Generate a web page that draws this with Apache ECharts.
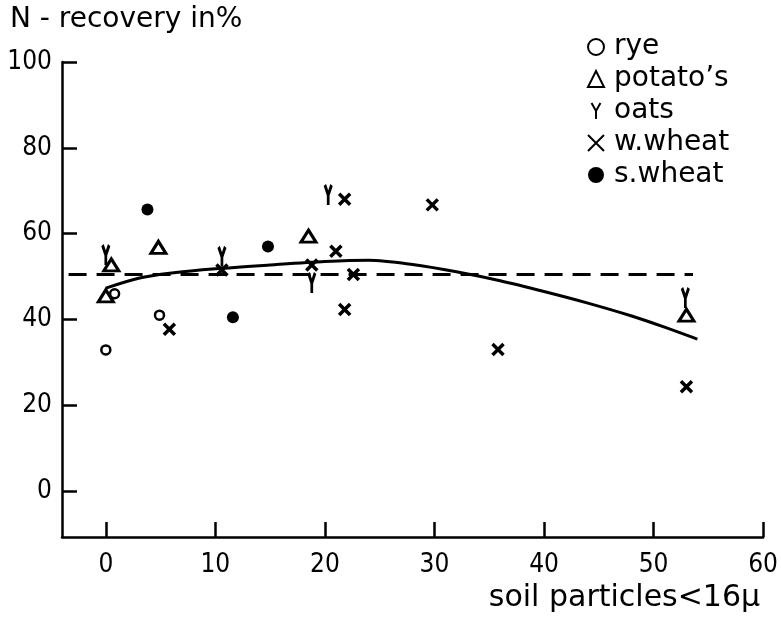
<!DOCTYPE html>
<html>
<head>
<meta charset="utf-8">
<script src="https://cdn.jsdelivr.net/npm/echarts@6/dist/echarts.min.js"></script>
<style>
  html, body { margin: 0; padding: 0; background: #fff; }
  #chart { width: 781px; height: 620px; }
</style>
</head>
<body>
<div id="chart"></div>
<script>
// Measured N-recovery (%) against soil particles < 16 µm, per crop
const ryePts     = [[0, 32.9], [4.9, 41.0], [0.8, 46.0]];
const potatoPts  = [[0.5, 52.7], [0, 45.5], [4.8, 56.8], [18.5, 59.4], [53, 41.0]];
const oatsPts    = [[0, 55.0], [10.6, 54.6], [20.3, 69.0], [18.8, 48.5], [52.9, 45.0]];
const wWheatPts  = [[5.8, 37.7], [10.6, 51.5], [18.8, 52.7], [21.0, 55.9], [21.8, 68.0],
                    [22.6, 50.5], [21.8, 42.3], [29.8, 66.7], [35.8, 33.0], [53, 24.3]];
const sWheatPts  = [[3.8, 65.6], [11.6, 40.5], [14.8, 57.0]];

// Fitted curve through all crops
const trendX = [0, 3, 6, 10, 15, 20, 24, 28, 32, 36, 40, 44, 48, 51, 54];
const trendY = [47.3, 49.6, 50.8, 51.8, 52.7, 53.5, 53.8, 52.8, 51.1, 49.0, 46.5, 43.8, 40.8, 38.2, 35.4];

// Overall mean recovery level (dashed)
const meanX = [-3.4, 53.6];
const meanY = [50.5, 50.5];

// Axis tick labels
const xTicks = [0, 10, 20, 30, 40, 50, 60];
const yTicks = [0, 20, 40, 60, 80, 100];

const seriesNames = ['rye', 'potato’s', 'oats', 'w.wheat', 's.wheat'];

const FONT = "'DejaVu Sans', sans-serif";
const TICK_FONT = "'DejaVu Sans Condensed', 'Liberation Sans Narrow', 'DejaVu Sans', sans-serif";

const OATS_PATH = 'path://M0,0 L5,9 L10,0 M5,9 L5,18';
const CROSS_PATH = 'path://M0,0 L10,10 M10,0 L0,10';

function zip(xs, ys) { return xs.map((x, i) => [x, ys[i]]); }

const chart = echarts.init(document.getElementById('chart'), null, { renderer: 'canvas' });

chart.setOption({
  animation: false,
  backgroundColor: '#fff',
  title: {
    text: 'N - recovery in%',
    left: 10, top: 6, padding: 0,
    textStyle: { fontFamily: FONT, fontSize: 28, fontWeight: 'normal', color: '#000' }
  },
  legend: {
    orient: 'vertical',
    left: 587, top: 33,
    padding: 0,
    itemWidth: 16, itemHeight: 16,
    itemGap: 4,
    data: seriesNames,
    textStyle: { fontFamily: FONT, fontSize: 28, color: '#000', padding: [0, 0, 0, 5] }
  },
  grid: { left: 62, right: 12, top: 62, bottom: 83 },
  xAxis: {
    type: 'value',
    min: -4, max: 60,
    name: 'soil particles<16μ',
    nameLocation: 'end',
    nameGap: -3,
    nameTextStyle: {
      fontFamily: FONT, fontSize: 30, color: '#000',
      align: 'right', verticalAlign: 'top', padding: [46, 0, 0, 0]
    },
    axisLine: { show: true, onZero: false, lineStyle: { color: '#000', width: 2.5 } },
    axisTick: { show: true, inside: true, length: 15, customValues: xTicks,
                lineStyle: { color: '#000', width: 2.5 } },
    axisLabel: { customValues: xTicks, fontFamily: TICK_FONT, fontSize: 26, color: '#000', margin: 15 },
    splitLine: { show: false }
  },
  yAxis: {
    type: 'value',
    min: -10.7, max: 100,
    axisLine: { show: true, onZero: false, lineStyle: { color: '#000', width: 2.5 } },
    axisTick: { show: true, inside: true, length: 15, customValues: yTicks,
                lineStyle: { color: '#000', width: 2.5 } },
    axisLabel: { customValues: yTicks, fontFamily: TICK_FONT, fontSize: 26, color: '#000', margin: 10 },
    splitLine: { show: false }
  },
  series: [
    {
      name: 'mean', type: 'line', data: zip(meanX, meanY),
      showSymbol: false, silent: true, z: 1,
      lineStyle: { color: '#000', width: 3, type: [18, 10] }
    },
    {
      name: 'fit', type: 'line', data: zip(trendX, trendY),
      smooth: 0.3, showSymbol: false, silent: true, z: 1,
      lineStyle: { color: '#000', width: 3 }
    },
    {
      name: seriesNames[0], type: 'scatter', data: ryePts, z: 3,
      symbol: 'circle', symbolSize: 9,
      itemStyle: { color: '#fff', borderColor: '#000', borderWidth: 2.5, opacity: 1 }
    },
    {
      name: seriesNames[1], type: 'scatter', data: potatoPts, z: 3,
      symbol: 'triangle', symbolSize: [15, 12],
      itemStyle: { color: '#fff', borderColor: '#000', borderWidth: 3, opacity: 1 }
    },
    {
      name: seriesNames[2], type: 'scatter', data: oatsPts, z: 3,
      symbol: OATS_PATH, symbolSize: [12, 20], symbolKeepAspect: true,
      itemStyle: { color: 'rgba(0,0,0,0)', borderColor: '#000', borderWidth: 3.5, opacity: 1 }
    },
    {
      name: seriesNames[3], type: 'scatter', data: wWheatPts, z: 3,
      symbol: CROSS_PATH, symbolSize: 11,
      itemStyle: { color: 'rgba(0,0,0,0)', borderColor: '#000', borderWidth: 3.5, opacity: 1 }
    },
    {
      name: seriesNames[4], type: 'scatter', data: sWheatPts, z: 3,
      symbol: 'circle', symbolSize: 12,
      itemStyle: { color: '#000', borderColor: '#000', borderWidth: 0, opacity: 1 }
    }
  ]
});
</script>
</body>
</html>
